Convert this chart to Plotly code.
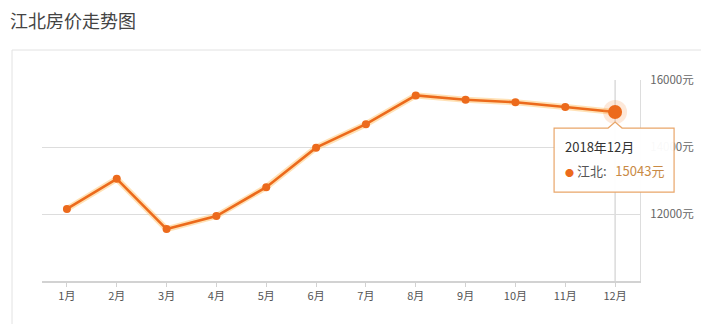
import plotly.graph_objects as go

months = ["1月", "2月", "3月", "4月", "5月", "6月", "7月", "8月", "9月", "10月", "11月", "12月"]
prices = [12150, 13050, 11550, 11940, 12800, 13980, 14680, 15540, 15410, 15335, 15195, 15043]
y_min, y_max = 10000, 16000
y_ticks = [12000, 14000, 16000]
y_tick_text = [f"{v}元" for v in y_ticks]
title_text = "江北房价走势图"
series_name = "江北"
tooltip_title = "2018年12月"

FONT = "Noto Sans CJK SC, Microsoft YaHei, sans-serif"
LINE = "#ec6a1c"

W, H = 701, 324
L, R, T, B = 42, 61, 80, 43
pw, ph = W - L - R, H - T - B

def px_x(p):
    return (p - L) / pw

def px_y(p):
    return (H - B - p) / ph

fig = go.Figure()

# glow under the line
fig.add_trace(go.Scatter(x=months, y=prices, mode="lines",
                         line=dict(color="rgba(255,200,120,0.55)", width=6),
                         hoverinfo="skip", showlegend=False))
fig.add_trace(go.Scatter(x=months, y=prices, mode="lines+markers", name=series_name,
                         line=dict(color=LINE, width=2.6),
                         marker=dict(color=LINE, size=8),
                         showlegend=False))
# highlighted last point
fig.add_trace(go.Scatter(x=[months[-1]], y=[prices[-1]], mode="markers",
                         marker=dict(color="rgba(245,150,80,0.22)", size=24),
                         hoverinfo="skip", showlegend=False))
fig.add_trace(go.Scatter(x=[months[-1]], y=[prices[-1]], mode="markers",
                         marker=dict(color=LINE, size=14),
                         hoverinfo="skip", showlegend=False))

last_idx = len(months) - 1
# paper-space anchor of the highlighted point (so the tooltip is not clipped)
anchor_px = (last_idx + 0.5) / len(months)
anchor_py = (prices[-1] - y_min) / (y_max - y_min)

shapes = [
    # outer panel border
    dict(type="path", xref="paper", yref="paper",
         path=f"M {px_x(12)},{px_y(335)} L {px_x(12)},{px_y(50)} L {px_x(720)},{px_y(50)}",
         line=dict(color="#e2e2e2", width=1), layer="below"),
    # crosshair
    dict(type="line", xref="x", yref="paper", x0=last_idx, x1=last_idx, y0=0, y1=1,
         line=dict(color="#c8c8c8", width=1), layer="below"),
    # tooltip box with caret
    dict(type="path", xref="paper", yref="paper", xsizemode="pixel", ysizemode="pixel",
         xanchor=anchor_px, yanchor=anchor_py,
         path="M -61,-16 L -7,-16 L 0,-10 L 7,-16 L 59,-16 L 59,-80 L -61,-80 Z",
         fillcolor="rgba(255,255,255,0.96)",
         line=dict(color="#e9a66a", width=1.2), layer="above"),
]

annotations = [
    dict(x=last_idx, y=prices[-1], xref="x", yref="y", showarrow=False,
         text=tooltip_title, xanchor="left", yanchor="middle",
         xshift=-52, yshift=-34, font=dict(family=FONT, size=13, color="#333333")),
    dict(x=last_idx, y=prices[-1], xref="x", yref="y", showarrow=False,
         text=(f"<span style='color:{LINE};font-size:9px'>●</span>&nbsp;"
               f"<span style='color:#555555'>{series_name}:</span>&nbsp;&nbsp;&nbsp;"
               f"<span style='color:#c98a45'>{prices[-1]}元</span>"),
         xanchor="left", yanchor="middle",
         xshift=-52, yshift=-58, font=dict(family=FONT, size=13, color="#555555")),
]

fig.update_layout(
    width=W, height=H,
    margin=dict(l=L, r=R, t=T, b=B, autoexpand=False),
    paper_bgcolor="white", plot_bgcolor="white",
    font=dict(family=FONT),
    title=dict(text=title_text, xref="container", yref="container",
               x=10 / W, y=1 - 22 / H, xanchor="left", yanchor="middle",
               font=dict(family=FONT, size=18, color="#444444")),
    shapes=shapes,
    annotations=annotations,
    hovermode=False,
    xaxis=dict(type="category", range=[-0.5, len(months) - 0.5], automargin=False,
               showgrid=False, zeroline=False,
               showline=True, linecolor="#d2d2d2", linewidth=2,
               ticks="outside", ticklen=4, tickcolor="#d2d2d2",
               tickfont=dict(family=FONT, size=11, color="#555555"),
               fixedrange=True),
    yaxis=dict(range=[y_min, y_max], side="right", automargin=False,
               tickvals=y_ticks, ticktext=y_tick_text,
               showgrid=True, gridcolor="#dddddd", gridwidth=1,
               zeroline=False, showline=True, linecolor="#dddddd", linewidth=1,
               ticks="", ticklabelstandoff=7,
               tickfont=dict(family=FONT, size=11.5, color="#666666"),
               fixedrange=True),
)

fig.write_html("out.html")
